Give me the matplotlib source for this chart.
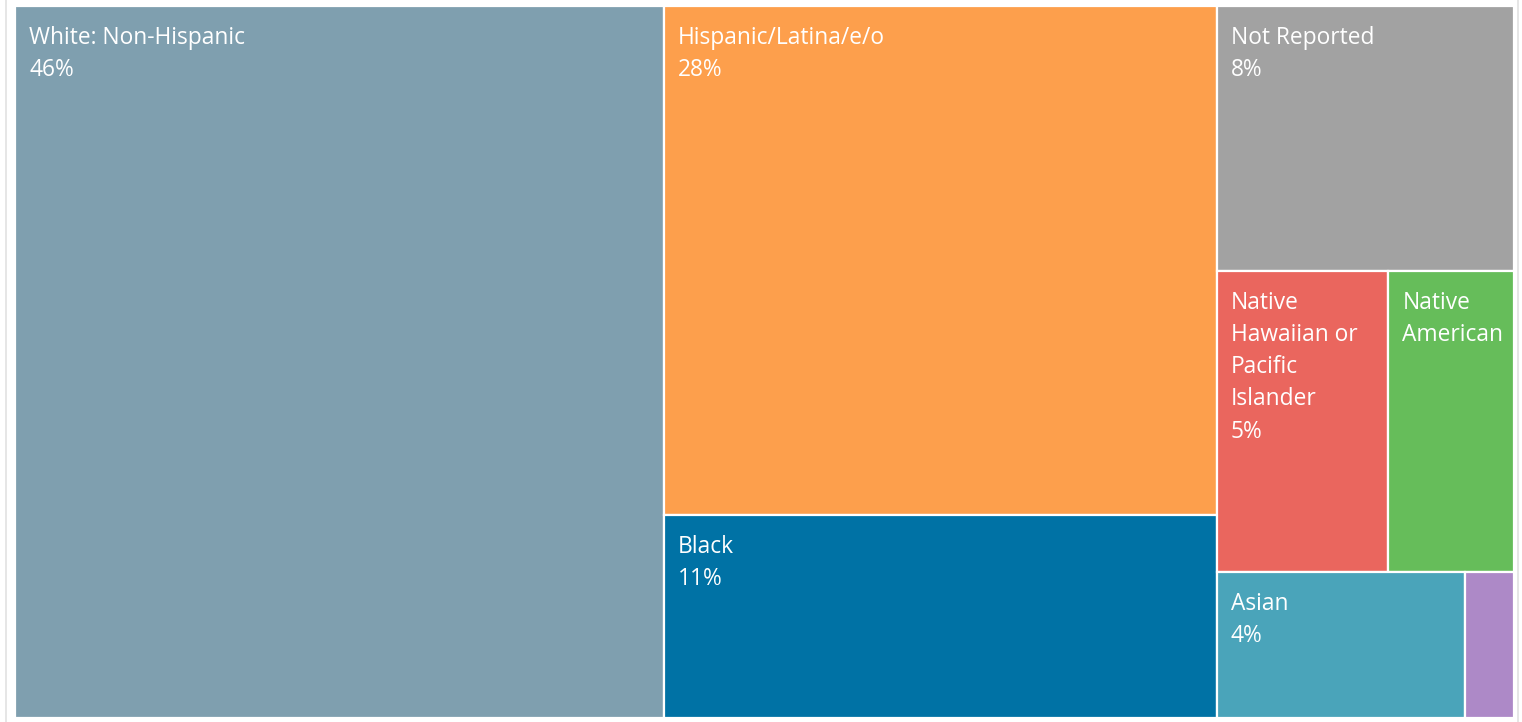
import matplotlib.pyplot as plt
from matplotlib.patches import Rectangle

# Treemap data (area shares)
categories = ['White: Non-Hispanic', 'Hispanic/Latina/e/o', 'Black', 'Not Reported',
              'Native\nHawaiian or\nPacific\nIslander', 'Native\nAmerican', 'Asian', '']
values = [43.2, 26.3, 10.5, 7.35, 4.84, 3.54, 3.38, 0.67]
pct_labels = ['46%', '28%', '11%', '8%', '5%', '', '4%', '']
colors = ['#7F9FAF', '#FD9F4C', '#0072A5', '#A2A2A2',
          '#EA665E', '#66BD5A', '#4AA4BA', '#AD89C7']

# Nesting used by the layout: columns -> rows -> cells
groups = [[[0]], [[1], [2]], [[3], [4, 5], [6, 7]]]

W, H = 1522, 722
x0, y0, x1, y1 = 15, 6, 1514, 718

fig = plt.figure(figsize=(W / 100, H / 100), dpi=100)
ax = fig.add_axes([0, 0, 1, 1])
ax.set_xlim(0, W)
ax.set_ylim(H, 0)
ax.axis('off')

# faint frame lines
ax.plot([6, 6], [0, H], color='#E2E2E2', lw=1.2)
ax.plot([1518, 1518], [0, H], color='#E2E2E2', lw=1.2)

total = sum(values)
cx = x0
for col in groups:
    col_sum = sum(values[i] for row in col for i in row)
    cw = (x1 - x0) * col_sum / total
    cy = y0
    for row in col:
        row_sum = sum(values[i] for i in row)
        rh = (y1 - y0) * row_sum / col_sum
        rx = cx
        for i in row:
            w = cw * values[i] / row_sum
            ax.add_patch(Rectangle((rx, cy), w, rh, facecolor=colors[i],
                                   edgecolor='white', lw=1.6))
            txt = categories[i]
            if pct_labels[i]:
                txt = txt + '\n' + pct_labels[i]
            if txt:
                ax.text(rx + 14, cy + 20, txt, color='white', fontsize=16.4,
                        family=['Open Sans', 'DejaVu Sans'], va='top', ha='left',
                        linespacing=1.46)
            rx += w
        cy += rh
    cx += cw

fig.savefig('out.png', dpi=100)
